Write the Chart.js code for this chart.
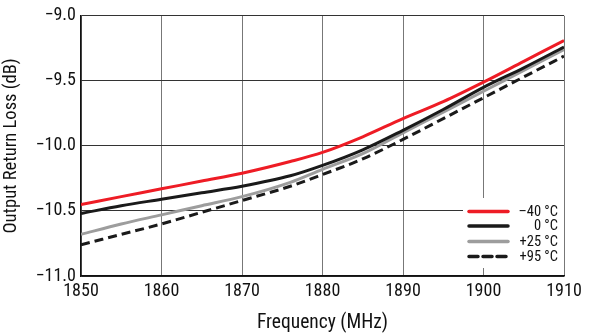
<!DOCTYPE html>
<html>
<head>
<meta charset="utf-8">
<script src="https://cdn.jsdelivr.net/npm/chart.js@4"></script>
<style>
html,body{margin:0;padding:0;background:#fff;}
#wrap{width:594px;height:335px;}
</style>
</head>
<body>
<div id="wrap"><canvas id="c" width="594" height="335"></canvas></div>
<script>
const freqs = [1850, 1855, 1860, 1865, 1870, 1876, 1880, 1885, 1890, 1895, 1900, 1905, 1910];
const seriesM40 = [-10.45, -10.39, -10.33, -10.27, -10.21, -10.12, -10.05, -9.93, -9.79, -9.66, -9.51, -9.35, -9.19];
const series0   = [-10.52, -10.46, -10.41, -10.36, -10.31, -10.23, -10.15, -10.03, -9.88, -9.72, -9.55, -9.40, -9.24];
const series25  = [-10.68, -10.60, -10.53, -10.46, -10.39, -10.28, -10.18, -10.06, -9.90, -9.74, -9.58, -9.42, -9.26];
const series95  = [-10.76, -10.68, -10.60, -10.51, -10.42, -10.31, -10.22, -10.10, -9.95, -9.79, -9.63, -9.47, -9.31];
const legendLabels = ['\u201340 \u00B0C', '0 \u00B0C', '+25 \u00B0C', '+95 \u00B0C'];
const xTicks = [1850, 1860, 1870, 1880, 1890, 1900, 1910];
const yTicks = [-11.0, -10.5, -10.0, -9.5, -9.0];

const FONT = '"Liberation Sans Narrow", "Roboto Condensed", "DejaVu Sans Condensed", sans-serif';

function pts(arr){ return freqs.map((f,i)=>({x:f, y:arr[i]})); }

const legendPlugin = {
  id: 'insideLegend',
  afterDatasetsDraw(chart){
    const ctx = chart.ctx;
    ctx.save();
    ctx.fillStyle = '#fff';
    ctx.fillRect(463, 198, 101, 70);
    const rows = [211.5, 226, 241.5, 256.5];
    chart.data.datasets.forEach((ds, i) => {
      ctx.beginPath();
      ctx.strokeStyle = ds.borderColor;
      ctx.lineWidth = 3.5;
      ctx.lineCap = 'round';
      ctx.setLineDash(ds.borderDash || []);
      ctx.moveTo(469, rows[i]);
      ctx.lineTo(508, rows[i]);
      ctx.stroke();
      ctx.setLineDash([]);
      ctx.fillStyle = '#111';
      ctx.font = '14.5px ' + FONT;
      ctx.textAlign = 'right';
      ctx.textBaseline = 'middle';
      ctx.fillText(legendLabels[i], 558, rows[i] + 0.5);
    });
    ctx.restore();
  }
};

new Chart(document.getElementById('c'), {
  type: 'line',
  data: {
    datasets: [
      {label: legendLabels[0], data: pts(seriesM40), borderColor: '#ee1c25', borderWidth: 3, pointRadius: 0, cubicInterpolationMode: 'monotone', fill: false},
      {label: legendLabels[1], data: pts(series0), borderColor: '#1a1a1a', borderWidth: 3, pointRadius: 0, cubicInterpolationMode: 'monotone', fill: false},
      {label: legendLabels[2], data: pts(series25), borderColor: '#9d9d9d', borderWidth: 3, pointRadius: 0, cubicInterpolationMode: 'monotone', fill: false},
      {label: legendLabels[3], data: pts(series95), borderColor: '#1a1a1a', borderWidth: 3, borderDash: [9, 5], pointRadius: 0, cubicInterpolationMode: 'monotone', fill: false}
    ]
  },
  options: {
    responsive: false,
    animation: false,
    layout: {padding: {top: 12, right: 30, left: 0, bottom: 0}},
    plugins: {legend: {display: false}, tooltip: {enabled: false}},
    scales: {
      x: {
        type: 'linear',
        min: 1850, max: 1910,
        afterBuildTicks(s){ s.ticks = xTicks.map(v=>({value:v})); },
        afterFit(s){ s.height = 59; },
        grid: {color: '#777', lineWidth: 1, drawTicks: false},
        border: {color: '#111', width: 1.5},
        ticks: {color: '#111', font: {family: FONT, size: 18}, padding: 5, maxRotation: 0,
          callback: v => String(v)},
        title: {display: true, text: 'Frequency (MHz)', color: '#111', font: {family: FONT, size: 19.5}, padding: {top: 0, bottom: 0}}
      },
      y: {
        min: -11, max: -9,
        afterBuildTicks(s){ s.ticks = yTicks.map(v=>({value:v})); },
        afterFit(s){ s.width = 81; },
        grid: {color: '#333', lineWidth: 1, drawTicks: false},
        border: {color: '#111', width: 1.5},
        ticks: {color: '#111', font: {family: FONT, size: 18}, padding: 5,
          callback: v => '\u2212' + Math.abs(v).toFixed(1)},
        title: {display: true, text: 'Output Return Loss (dB)', color: '#111', font: {family: FONT, size: 18.5}, padding: {top: 0, bottom: 3}}
      }
    }
  },
  plugins: [legendPlugin]
});
</script>
</body>
</html>
